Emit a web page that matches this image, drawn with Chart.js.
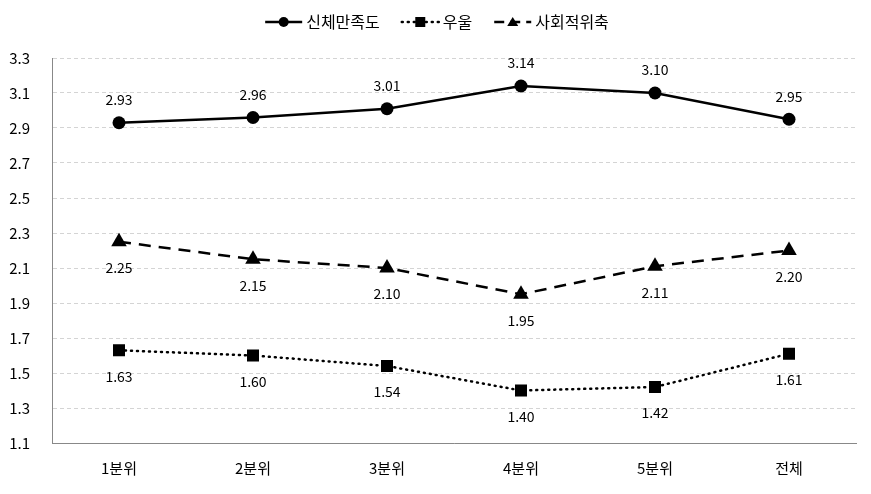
<!DOCTYPE html>
<html>
<head>
<meta charset="utf-8">
<script src="https://cdn.jsdelivr.net/npm/chart.js@4"></script>
<style>
  html, body { margin: 0; padding: 0; background: #fff; }
  #wrap { width: 871px; height: 494px; }
</style>
</head>
<body>
<div id="wrap"><canvas id="lineChart"></canvas></div>
<script>
// data
const categories = ['1분위', '2분위', '3분위', '4분위', '5분위', '전체'];
const bodySatisfaction = [2.93, 2.96, 3.01, 3.14, 3.10, 2.95];
const depression = [1.63, 1.60, 1.54, 1.40, 1.42, 1.61];
const socialShrink = [2.25, 2.15, 2.10, 1.95, 2.11, 2.20];
const seriesNames = ['신체만족도', '우울', '사회적위축'];
const yTicks = [1.1, 1.3, 1.5, 1.7, 1.9, 2.1, 2.3, 2.5, 2.7, 2.9, 3.1, 3.3];

const FONT = '"Noto Sans CJK KR", "Noto Sans", sans-serif';

function drawMarker(ctx, shape, x, y, r) {
  ctx.beginPath();
  if (shape === 'circle') ctx.arc(x, y, r, 0, Math.PI * 2);
  else if (shape === 'rect') ctx.rect(x - r, y - r, r * 2, r * 2);
  else { ctx.moveTo(x, y - r); ctx.lineTo(x + r * 1.1, y + r * 0.8); ctx.lineTo(x - r * 1.1, y + r * 0.8); ctx.closePath(); }
  ctx.fill();
}

// legend drawn by hand so each entry shows line style + marker
const lineLegend = {
  id: 'lineLegend',
  afterDraw(chart) {
    const ctx = chart.ctx;
    const dashes = [[], [1, 5], [10, 6]];
    const shapes = ['circle', 'rect', 'tri'];
    const sampleW = 37, gapText = 4, gapItem = 22, cy = 22;
    ctx.save();
    ctx.font = '16px ' + FONT;
    const widths = chart.data.datasets.map(ds => sampleW + gapText + ctx.measureText(ds.label).width);
    const total = widths.reduce((a, b) => a + b, 0) + gapItem * (widths.length - 1);
    let x = 437 - total / 2;
    chart.data.datasets.forEach((ds, i) => {
      ctx.strokeStyle = '#000';
      ctx.fillStyle = '#000';
      ctx.lineWidth = 2.5;
      ctx.lineCap = i === 1 ? 'round' : 'butt';
      ctx.setLineDash(dashes[i]);
      ctx.beginPath(); ctx.moveTo(x, cy); ctx.lineTo(x + sampleW, cy); ctx.stroke();
      ctx.setLineDash([]);
      drawMarker(ctx, shapes[i], x + sampleW / 2, cy, 5);
      ctx.textAlign = 'left';
      ctx.textBaseline = 'middle';
      ctx.fillText(ds.label, x + sampleW + gapText, cy);
      x += widths[i] + gapItem;
    });
    ctx.restore();
  }
};

// value labels next to each point
const valueLabels = {
  id: 'valueLabels',
  afterDatasetsDraw(chart) {
    const ctx = chart.ctx;
    ctx.save();
    ctx.font = '14px ' + FONT;
    ctx.fillStyle = '#000';
    ctx.textAlign = 'center';
    ctx.textBaseline = 'middle';
    chart.data.datasets.forEach((ds, i) => {
      chart.getDatasetMeta(i).data.forEach((pt, j) => {
        const dy = i === 0 ? -23 : 26;
        ctx.fillText(ds.data[j].toFixed(2), pt.x, pt.y + dy);
      });
    });
    ctx.restore();
  }
};

const common = { borderColor: '#000', backgroundColor: '#000', borderWidth: 2.5, pointBorderWidth: 0, tension: 0, clip: false };

new Chart(document.getElementById('lineChart'), {
  type: 'line',
  data: {
    labels: categories,
    datasets: [
      Object.assign({ label: seriesNames[0], data: bodySatisfaction, pointStyle: 'circle', pointRadius: 6.5 }, common),
      Object.assign({ label: seriesNames[1], data: depression, pointStyle: 'rect', pointRadius: 8.5, borderDash: [1, 5], borderCapStyle: 'round' }, common),
      Object.assign({ label: seriesNames[2], data: socialShrink, pointStyle: 'triangle', pointRadius: 9, borderDash: [12, 8] }, common)
    ]
  },
  options: {
    responsive: true,
    maintainAspectRatio: false,
    animation: false,
    layout: { padding: { top: 58, right: 15, bottom: 0, left: 0 } },
    plugins: {
      tooltip: { enabled: false },
      legend: { display: false }
    },
    scales: {
      x: {
        offset: true,
        afterFit(scale) { scale.height = 51; },
        grid: { display: false, drawTicks: false },
        border: { color: '#888', width: 1 },
        ticks: { color: '#000', font: { family: FONT, size: 15 }, padding: 16 }
      },
      y: {
        min: 1.1,
        max: 3.3,
        afterBuildTicks(scale) { scale.ticks = yTicks.map(v => ({ value: v })); },
        afterFit(scale) { scale.width = 52; },
        grid: { color: '#d4d4d4', drawTicks: false },
        border: { color: '#888', width: 1, dash: [4, 3] },
        ticks: { color: '#000', font: { family: FONT, size: 15 }, padding: 22, callback: v => v.toFixed(1) }
      }
    }
  },
  plugins: [valueLabels, lineLegend]
});
</script>
</body>
</html>
